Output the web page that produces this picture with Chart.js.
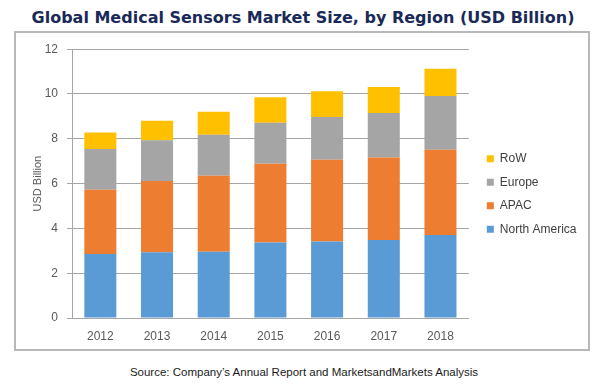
<!DOCTYPE html>
<html>
<head>
<meta charset="utf-8">
<script src="https://cdn.jsdelivr.net/npm/chart.js@4.4.1/dist/chart.umd.min.js"></script>
<style>
  html, body { margin: 0; padding: 0; background: #fff; }
  body { width: 600px; height: 387px; position: relative; overflow: hidden; font-family: "Liberation Sans", Arial, sans-serif; }
  #title { position: absolute; left: 0; top: 8px; width: 606px; text-align: center;
           font: bold 16px "DejaVu Sans", Verdana, sans-serif; color: #1a2a58; }
  #frame { position: absolute; left: 14px; top: 31px; width: 576px; height: 320px;
           border: 2px solid #b8b8b8; box-sizing: border-box; }
  #chart { position: absolute; left: 16px; top: 33px; }
  #source { position: absolute; left: 0; top: 366px; width: 608px; text-align: center;
            font-size: 11.5px; color: #1a1a1a; }
</style>
</head>
<body>
<div id="title">Global Medical Sensors Market Size, by Region (USD Billion)</div>
<div id="frame"></div>
<canvas id="chart" width="572" height="316"></canvas>
<div id="source">Source: Company’s Annual Report and MarketsandMarkets Analysis</div>
<script>
// 數據
const years = ['2012', '2013', '2014', '2015', '2016', '2017', '2018'];
const northAmerica = [2.86, 2.93, 2.96, 3.37, 3.42, 3.48, 3.70];
const apac = [2.87, 3.19, 3.39, 3.52, 3.65, 3.68, 3.81];
const europe = [1.82, 1.81, 1.83, 1.83, 1.90, 1.99, 2.40];
const row = [0.73, 0.88, 1.03, 1.13, 1.15, 1.16, 1.22];

const gridGray = '#a6a6a6';
const tickGray = '#595959';

// 圖例與繪圖區之間留出較寬的間距
const legendGap = {
    id: 'legendGap',
    afterLayout(chart) {
        const lg = chart.legend;
        if (!lg) return;
        lg.left += 6.5;
        lg.right += 6.5;
    }
};

const common = { barPercentage: 0.565, categoryPercentage: 1.0, borderWidth: 0 };

new Chart(document.getElementById('chart').getContext('2d'), {
    type: 'bar',
    data: {
        labels: years,
        datasets: [
            { label: 'North America', data: northAmerica, backgroundColor: '#5b9bd5', ...common },
            { label: 'APAC', data: apac, backgroundColor: '#ed7d31', ...common },
            { label: 'Europe', data: europe, backgroundColor: '#a5a5a5', ...common },
            { label: 'RoW', data: row, backgroundColor: '#ffc000', ...common }
        ]
    },
    options: {
        responsive: false,
        animation: false,
        layout: { padding: { left: 0, top: 12, right: 8, bottom: 6 } },
        scales: {
            x: {
                stacked: true,
                grid: { display: false, drawTicks: false },
                border: { display: true, color: gridGray, width: 1 },
                ticks: { padding: 11, color: tickGray, font: { family: 'Liberation Sans', size: 12 } },
                afterFit(scale) { scale.height = 25; }
            },
            y: {
                stacked: true,
                min: 0,
                max: 12,
                ticks: { stepSize: 2, padding: 9, color: tickGray, font: { family: 'Liberation Sans', size: 12 } },
                grid: { color: gridGray, tickLength: 5, lineWidth: 1 },
                border: { display: true, color: gridGray, width: 1 },
                title: {
                    display: true,
                    text: 'USD Billion',
                    color: tickGray,
                    font: { family: 'Liberation Sans', size: 11 },
                    padding: { top: 15, bottom: 0 }
                },
                afterFit(scale) { scale.width = 56; }
            }
        },
        plugins: {
            legend: {
                position: 'right',
                reverse: true,
                labels: {
                    boxWidth: 7,
                    boxHeight: 7,
                    padding: 11.5,
                    color: '#404040',
                    font: { family: 'Liberation Sans', size: 12 }
                }
            },
            tooltip: { enabled: false }
        }
    },
    plugins: [legendGap]
});
</script>
</body>
</html>
